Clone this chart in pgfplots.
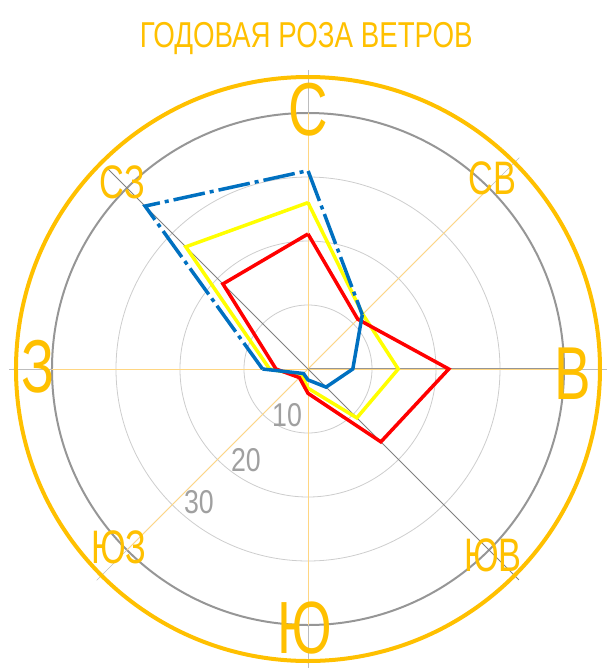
\documentclass[border=0pt]{standalone}
\usepackage{pgfplots}
\pgfplotsset{compat=1.18}
\usepgfplotslibrary{polar}
\usepackage{fontspec}
\setmainfont{Liberation Sans}
\newfontfamily\nf[FakeStretch=0.73]{Liberation Sans}
\newfontfamily\tf[FakeStretch=0.77]{Liberation Sans}
\newfontfamily\numf[FakeStretch=0.81]{Liberation Sans}
\definecolor{rorange}{RGB}{255,192,0}
\definecolor{lorange}{RGB}{255,214,130}
\definecolor{rblue}{RGB}{0,112,192}
\definecolor{ryellow}{RGB}{255,255,0}
\definecolor{rred}{RGB}{255,0,0}
\definecolor{gcirc}{RGB}{150,150,150}
\definecolor{gthin}{RGB}{205,205,205}
\definecolor{gtext}{RGB}{160,160,160}
\begin{document}
\begin{tikzpicture}[x=1pt,y=1pt]
\useasboundingbox (-308,-301) rectangle (298,369);
\begin{polaraxis}[
  at={(0,0)}, anchor=center,
  width=512pt, height=512pt, scale only axis,
  ymin=0, ymax=40,
  xmin=0, xmax=360,
  xtick=\empty, ytick={10,20,30},
  yticklabels={}, 
  ymajorgrids=true, xmajorgrids=false,
  grid style={gthin, line width=0.8pt},
  axis line style={gcirc, line width=2pt},
  major tick length=0pt,
  clip=false,
]
% radial lines
\draw[gthin!80!gray, line width=0.7pt] (axis cs:90,0) -- (axis cs:90,46.7);
\draw[gthin!80!gray, line width=0.7pt] (axis cs:270,0) -- (axis cs:270,46.7);
\draw[gthin!80!gray, line width=0.7pt] (axis cs:0,0) -- (axis cs:0,46.7);
\draw[gthin!80!gray, line width=0.7pt] (axis cs:180,0) -- (axis cs:180,46.7);
\draw[gthin!80!gray, line width=0.7pt] (axis cs:45,0) -- (axis cs:45,46.7);
\draw[gthin!80!gray, line width=0.7pt] (axis cs:225,0) -- (axis cs:225,46.7);
\draw[lorange, line width=0.8pt] (axis cs:90,40) -- (axis cs:270,40);
\draw[lorange, line width=0.8pt] (axis cs:0,40) -- (axis cs:180,40);
\draw[lorange, line width=0.8pt] (axis cs:45,40) -- (axis cs:225,40);
\draw[gray, line width=0.8pt] (axis cs:135,44.5) -- (axis cs:315,46.6);
% outer orange circle
\draw[rorange, line width=4pt] (axis cs:0,0) circle[radius=292pt];
% data
\addplot[ryellow, line width=3.5pt, line join=miter] coordinates {
(90,26) (45,12.1) (0,14.1) (-45,10.8) (-90,3.0) (-135,1.4) (180,6.0) (135,27) (90,26)};
\addplot[rred, line width=3.5pt, line join=miter] coordinates {
(90,21.1) (45,11) (0,22) (-45,16.1) (-90,3.8) (-135,1.9) (180,5.0) (135,18.8) (90,21.1)};
\addplot[rblue, line width=3.5pt, line join=miter, dash pattern=on 32pt off 5pt on 4pt off 5pt] coordinates {
(180,7.1) (135,36) (90,31) (45,12)};
\addplot[rblue, line width=3.5pt, line join=miter] coordinates {
(45,12) (0,7.0) (-45,4.0) (-90,1.7) (-135,1.0) (180,7.1)};
% direction labels
\node[rorange, font=\nf\fontsize{75}{80}\selectfont, inner sep=0pt] at (axis cs:90,40.5) {С};
\node[rorange, font=\nf\fontsize{75}{80}\selectfont, inner sep=0pt] at (axis cs:-1.1,41.3) {В};
\node[rorange, font=\nf\fontsize{74}{80}\selectfont, inner sep=0pt] at (axis cs:-90.7,40.5) {Ю};
\node[rorange, font=\nf\fontsize{75}{80}\selectfont, inner sep=0pt] at (axis cs:179.6,42.2) {З};
\node[rorange, font=\nf\fontsize{47}{50}\selectfont, inner sep=0pt] at (axis cs:45.9,41.5) {СВ};
\node[rorange, font=\nf\fontsize{47}{50}\selectfont, inner sep=0pt] at (axis cs:-136.7,40.6) {ЮЗ};
\node[rorange, font=\nf\fontsize{47}{50}\selectfont, inner sep=0pt] at (axis cs:-45.2,41.0) {ЮВ};
\node[rorange, font=\nf\fontsize{47}{50}\selectfont, inner sep=0pt] at (axis cs:134.8,41.2) {СЗ};
% radius labels
\node[gtext, font=\numf\fontsize{33}{35}\selectfont, inner sep=0pt] at (axis cs:-114.5,7.9) {10};
\node[gtext, font=\numf\fontsize{33}{35}\selectfont, inner sep=0pt] at (axis cs:-124.3,17.2) {20};
\node[gtext, font=\numf\fontsize{33}{35}\selectfont, inner sep=0pt] at (axis cs:-129.3,26.9) {30};
% title
\node[rorange, font=\tf\fontsize{36}{40}\selectfont, inner sep=0pt] at (axis cs:90.3,51.6) {ГОДОВАЯ РОЗА ВЕТРОВ};
\end{polaraxis}
\end{tikzpicture}
\end{document}
